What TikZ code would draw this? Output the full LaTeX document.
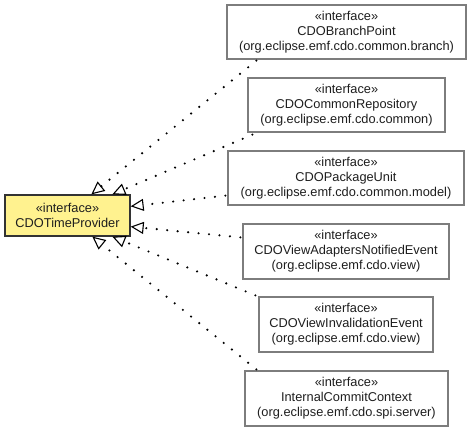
\documentclass[tikz,border=0pt]{standalone}
\usepackage{fontspec}
\setmainfont{Liberation Sans}
\usetikzlibrary{arrows.meta,calc}
\definecolor{boxyellow}{RGB}{255,242,143}
\definecolor{boxgray}{RGB}{125,125,125}
\definecolor{txt}{RGB}{30,30,30}
\begin{document}
\begin{tikzpicture}[x=1pt,y=-1pt,
  iface/.style={draw=boxgray, line width=1.3pt, fill=white, align=center,
    inner sep=0pt, text=txt, font=\fontsize{12.8}{15}\selectfont},
  focus/.style={iface, draw=black!80, fill=boxyellow},
  realize/.style={line width=2.4pt, line cap=round, dash pattern=on 0pt off 10.5pt,
    -{Triangle[open, length=13pt, width=12pt, line width=1.1pt, line cap=butt]}}
]
\useasboundingbox (0,0) rectangle (472,431);
\node[focus, minimum width=125pt, minimum height=41pt] (c) at (67.5,215.5)
  {«interface»\\CDOTimeProvider};
\node[iface, minimum width=239pt, minimum height=54pt] (b1) at (346.5,32)
  {«interface»\\CDOBranchPoint\\(org.eclipse.emf.cdo.common.branch)};
\node[iface, minimum width=197pt, minimum height=54pt] (b2) at (346.5,105)
  {«interface»\\CDOCommonRepository\\(org.eclipse.emf.cdo.common)};
\node[iface, minimum width=236pt, minimum height=54pt] (b3) at (346,178)
  {«interface»\\CDOPackageUnit\\(org.eclipse.emf.cdo.common.model)};
\node[iface, minimum width=206pt, minimum height=55pt] (b4) at (346,251.5)
  {«interface»\\CDOViewAdaptersNotifiedEvent\\(org.eclipse.emf.cdo.view)};
\node[iface, minimum width=174pt, minimum height=55pt] (b5) at (346,324.5)
  {«interface»\\CDOViewInvalidationEvent\\(org.eclipse.emf.cdo.view)};
\node[iface, minimum width=203pt, minimum height=55pt] (b6) at (346.5,398.5)
  {«interface»\\InternalCommitContext\\(org.eclipse.emf.cdo.spi.server)};

\draw[realize] ([xshift=30pt,yshift=-1pt]b1.south west) -- ([xshift=87pt]c.north west);
\draw[realize] ([xshift=5pt,yshift=-2pt]b2.south west) -- ([xshift=108pt]c.north west);
\draw[realize] ([xshift=-2pt,yshift=10pt]b3.south west) -- ([yshift=-12pt]c.north east);
\draw[realize] ([xshift=-2pt,yshift=-14pt]b4.north west) -- ([yshift=10pt]c.south east);
\draw[realize] ([xshift=-3pt,yshift=1pt]b5.north west) -- ([xshift=108pt]c.south west);
\draw[realize] ([xshift=12pt,yshift=1pt]b6.north west) -- ([xshift=88pt]c.south west);
\end{tikzpicture}
\end{document}
